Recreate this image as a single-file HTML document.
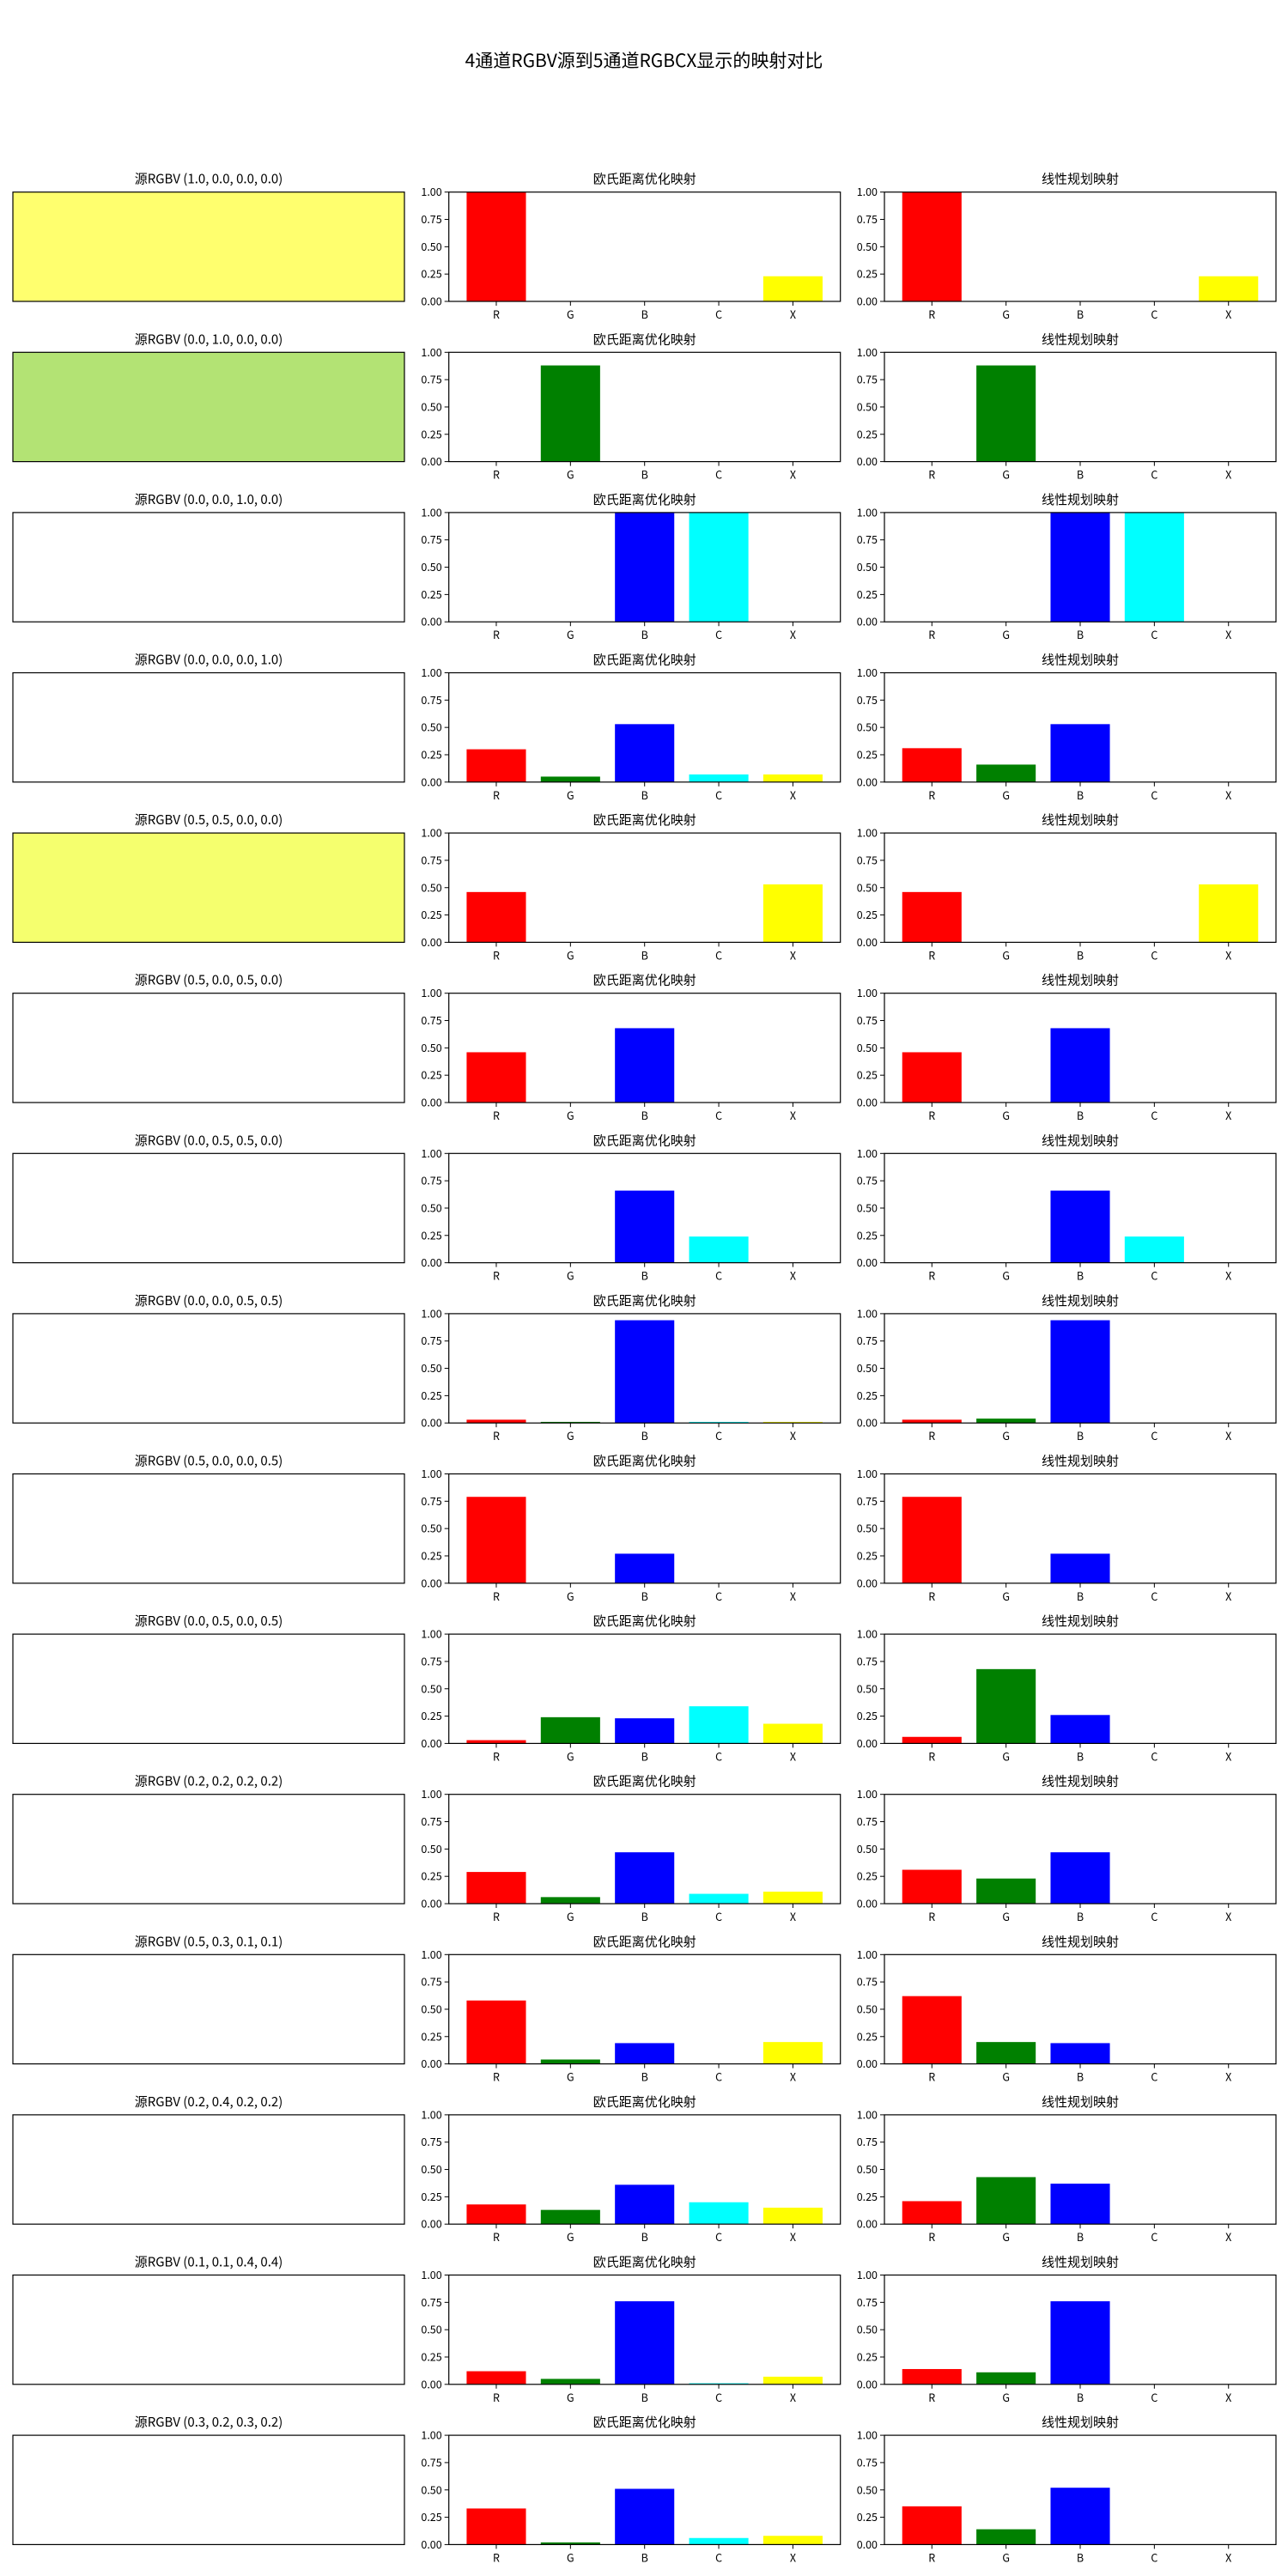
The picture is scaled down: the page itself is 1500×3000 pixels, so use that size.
<!DOCTYPE html>
<html><head><meta charset="utf-8">
<style>
html,body{margin:0;padding:0;background:#fff;}
svg{display:block;font-family:"WenQuanYi Zen Hei","Noto Sans CJK SC","Liberation Sans",sans-serif;}
</style></head>
<body>
<svg id="fig" width="1500" height="3000" viewBox="0 0 1500 3000">
<text x="750" y="78" text-anchor="middle" font-size="21">4通道RGBV源到5通道RGBCX显示的映射对比</text>
</svg>
<script>
const categories = ["R","G","B","C","X"];
const barColors = ["#ff0000","#008000","#0000ff","#00ffff","#ffff00"];
const yTicks = [0, 0.25, 0.5, 0.75, 1.0];
const yTickLabels = ["0.00","0.25","0.50","0.75","1.00"];
const sourceLabels = ["(1.0, 0.0, 0.0, 0.0)","(0.0, 1.0, 0.0, 0.0)","(0.0, 0.0, 1.0, 0.0)","(0.0, 0.0, 0.0, 1.0)","(0.5, 0.5, 0.0, 0.0)","(0.5, 0.0, 0.5, 0.0)","(0.0, 0.5, 0.5, 0.0)","(0.0, 0.0, 0.5, 0.5)","(0.5, 0.0, 0.0, 0.5)","(0.0, 0.5, 0.0, 0.5)","(0.2, 0.2, 0.2, 0.2)","(0.5, 0.3, 0.1, 0.1)","(0.2, 0.4, 0.2, 0.2)","(0.1, 0.1, 0.4, 0.4)","(0.3, 0.2, 0.3, 0.2)"];
const swatchColors = ["#ffff6e","#b3e374","#ffffff","#ffffff","#f5ff6e","#ffffff","#ffffff","#ffffff","#ffffff","#ffffff","#ffffff","#ffffff","#ffffff","#ffffff","#ffffff"];
const euclidValues = [
[1,0,0,0,0.23],[0,0.88,0,0,0],[0,0,1,1,0],[0.30,0.05,0.53,0.07,0.07],[0.46,0,0,0,0.53],
[0.46,0,0.68,0,0],[0,0,0.66,0.24,0],[0.03,0.01,0.94,0.01,0.01],[0.79,0,0.27,0,0],[0.03,0.24,0.23,0.34,0.18],
[0.29,0.06,0.47,0.09,0.11],[0.58,0.04,0.19,0,0.20],[0.18,0.13,0.36,0.20,0.15],[0.12,0.05,0.76,0.01,0.07],[0.33,0.02,0.51,0.06,0.08]];
const lpValues = [
[1,0,0,0,0.23],[0,0.88,0,0,0],[0,0,1,1,0],[0.31,0.16,0.53,0,0],[0.46,0,0,0,0.53],
[0.46,0,0.68,0,0],[0,0,0.66,0.24,0],[0.03,0.04,0.94,0,0],[0.79,0,0.27,0,0],[0.06,0.68,0.26,0,0],
[0.31,0.23,0.47,0,0],[0.62,0.20,0.19,0,0],[0.21,0.43,0.37,0,0],[0.14,0.11,0.76,0,0],[0.35,0.14,0.52,0,0]];

const NS="http://www.w3.org/2000/svg";
const svg=document.getElementById('fig');
function mk(tag,attrs,parent){const e=document.createElementNS(NS,tag);for(const k in attrs)e.setAttribute(k,attrs[k]);(parent||svg).appendChild(e);return e;}
const TOP0=223.7, PITCH=186.6, H=127.3, W=456;
const colX=[15,522.7,1030];
const XMIN=-0.64, XMAX=4.64;
function xs(col,i){return colX[col]+(i-XMIN)/(XMAX-XMIN)*W;}
function ys(row,v){return TOP0+row*PITCH+H-v*H;}

for(let r=0;r<sourceLabels.length;r++){
  const top=TOP0+r*PITCH;
  const t0=mk('text',{x:colX[0]+W/2,y:top-10,'text-anchor':'middle','font-size':'15'});
  t0.textContent='源RGBV '+sourceLabels[r];
  
  
  const sw=mk('rect',{x:colX[0],y:top,width:W,height:H,fill:swatchColors[r],stroke:'#000','stroke-width':'1.2'});
  
  
  [euclidValues,lpValues].forEach((vals,k)=>{
    const col=k+1;
    const g=mk('g',{});
    
    
    const tt=mk('text',{x:colX[col]+W/2,y:top-10,'text-anchor':'middle','font-size':'15'},g);
    tt.textContent=k===0?'欧氏距离优化映射':'线性规划映射';
    
    
    vals[r].forEach((v,i)=>{
      if(v<=0)return;
      const b=mk('rect',{x:xs(col,i-0.4),y:ys(r,v),width:xs(col,0.4)-xs(col,-0.4),height:ys(r,0)-ys(r,v),fill:barColors[i]},g);
      
      
    });
    mk('rect',{x:colX[col],y:top,width:W,height:H,fill:'none',stroke:'#000','stroke-width':'1.2'},g);
    yTicks.forEach((tv,j)=>{
      const y=ys(r,tv);
      mk('line',{x1:colX[col]-5,x2:colX[col],y1:y,y2:y,stroke:'#000','stroke-width':'1'},g);
      const l=mk('text',{x:colX[col]-8,y:y+4.5,'text-anchor':'end','font-size':'12.5'},g);
      l.textContent=yTickLabels[j];
      
      
    });
    categories.forEach((c,i)=>{
      const x=xs(col,i);
      mk('line',{x1:x,x2:x,y1:top+H,y2:top+H+5,stroke:'#000','stroke-width':'1'},g);
      const l=mk('text',{x:x,y:top+H+20,'text-anchor':'middle','font-size':'12.5'},g);
      l.textContent=c;
      
      
    });
  });
}
</script>
</body></html>
